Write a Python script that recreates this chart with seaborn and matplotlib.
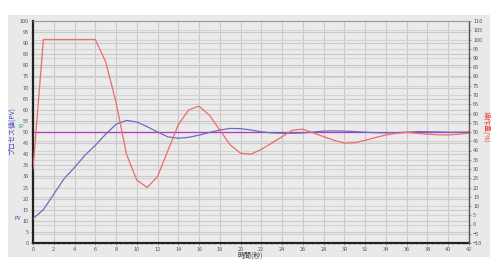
import numpy as np
import pandas as pd
import matplotlib
matplotlib.use("Agg")
import matplotlib.pyplot as plt
from matplotlib.patches import Rectangle
from matplotlib.ticker import MultipleLocator
import seaborn as sns

plt.rcParams['font.family'] = ['Noto Sans CJK JP', 'DejaVu Sans']

time_s = list(range(0, 43))
pv = [11, 15, 22, 29, 34, 39.5, 44, 49, 53.5, 55.2, 54.5, 52.4, 50, 47.8, 47.2,
      47.6, 48.6, 49.8, 50.9, 51.6, 51.5, 50.9, 50.1, 49.6, 49.4, 49.4, 49.6,
      50.0, 50.4, 50.5, 50.4, 50.2, 49.9, 49.7, 49.6, 49.7, 49.9, 50.2, 50.1,
      50.0, 49.9, 49.9, 50.0]
mv = [30, 100, 100, 100, 100, 100, 100, 88, 66, 38, 24, 20, 26, 40, 54, 62, 64,
      59, 51, 43, 38.5, 38, 40.6, 44, 47.5, 51, 51.5, 49.5, 47.5, 45.5, 44,
      44.2, 45.5, 47, 48.4, 49.3, 49.8, 49.3, 48.8, 48.5, 48.4, 48.8, 49.3]
sp = [50] * len(time_s)
mv_ticks = list(range(-10, 111, 5))

df = pd.DataFrame({"t": time_s, "PV": pv, "MV": mv, "SP": sp})

W, H = 498, 265
fig = plt.figure(figsize=(W / 100, H / 100), dpi=100)
fig.patch.set_facecolor("white")
fig.patches.append(Rectangle((8 / W, 1 - 257 / H), (490 - 8) / W, (257 - 15) / H,
                             transform=fig.transFigure, facecolor="#e9e9e9",
                             edgecolor="none", zorder=-5))

ax = fig.add_axes([33 / W, 1 - 243 / H, (469 - 33) / W, (243 - 21) / H])
ax.set_facecolor("#ebebeb")
ax2 = ax.twinx()

ax.set_xlim(0, 42)
ax.set_ylim(0, 100)
ax2.set_ylim(-10, 110)
ax.xaxis.set_major_locator(MultipleLocator(2))
ax.xaxis.set_minor_locator(MultipleLocator(0.5))
ax.yaxis.set_major_locator(MultipleLocator(5))
ax2.set_yticks(mv_ticks)

ax.grid(True, which="major", axis="both", color="#c9c9c9", lw=0.8, zorder=0)
ax.set_axisbelow(True)
# right-axis horizontal grid drawn behind the data on the main axes
ax.hlines(mv_ticks, 0, 42, transform=ax2.transData, colors="#d3d3d3",
          lw=0.8, zorder=0.6)

sns.lineplot(data=df, x="t", y="PV", ax=ax, color="#6c6cc0", lw=0.9, zorder=3)
sns.lineplot(data=df, x="t", y="SP", ax=ax, color="#b03cc0", lw=0.9, zorder=2)
sns.lineplot(data=df, x="t", y="MV", ax=ax2, color="#f06a6a", lw=0.9)

for a in (ax, ax2):
    a.set_xlabel("")
    a.set_ylabel("")
    a.tick_params(labelsize=4, length=1.5, width=0.4, pad=1.5, colors="#555555")
ax.tick_params(axis="x", which="minor", length=1.2, width=0.3, colors="#555555")

for s in ("left", "bottom"):
    ax.spines[s].set_linewidth(1.6)
    ax.spines[s].set_color("#222222")
ax2.spines["left"].set_visible(False)
ax2.spines["bottom"].set_visible(False)
ax2.spines["right"].set_linewidth(1.0)
ax2.spines["right"].set_color("#555555")
ax2.spines["top"].set_color("#999999")
ax2.spines["top"].set_linewidth(0.8)
ax.spines["top"].set_visible(False)
ax.spines["right"].set_visible(False)

fig.text(12 / W, 1 - 131 / H, "プロセス値(PV)", rotation=90, color="#4a4ac0",
         fontsize=5, ha="center", va="center")
fig.text(486 / W, 1 - 127 / H, "操作量(%)", rotation=270, color="#f04040",
         fontsize=5, ha="center", va="center")
fig.text(250 / W, 1 - 255.5 / H, "時間(秒)", color="#333333", fontsize=5,
         ha="center", va="center")
fig.text(21 / W, 1 - 127 / H, "SP", color="#40b060", fontsize=4,
         ha="center", va="center")
fig.text(18 / W, 1 - 218 / H, "PV", color="#4a4ac0", fontsize=4,
         ha="center", va="center")

fig.savefig("out.png", dpi=100, facecolor=fig.get_facecolor())
